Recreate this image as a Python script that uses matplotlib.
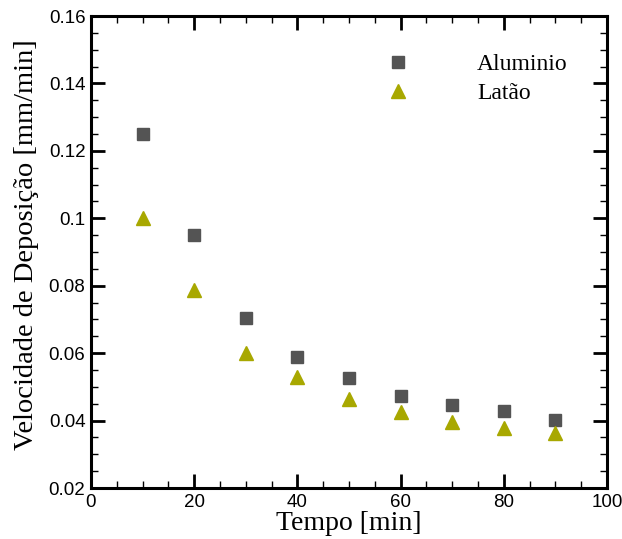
import matplotlib
import matplotlib.pyplot as plt
from matplotlib.ticker import MultipleLocator

matplotlib.use("Agg")

tempo = [10, 20, 30, 40, 50, 60, 70, 80, 90]
aluminio = [0.125, 0.095, 0.0705, 0.0588, 0.0525, 0.0473, 0.0445, 0.0428, 0.0402]
latao = [0.1002, 0.0787, 0.0600, 0.0530, 0.0465, 0.0426, 0.0397, 0.0379, 0.0364]

serif = ["Liberation Serif", "DejaVu Serif"]
sans = ["Liberation Sans", "DejaVu Sans"]

fig = plt.figure(figsize=(6.22, 5.39), dpi=100)
ax = fig.add_axes([0.1463, 0.0946, 0.8296, 0.8757])

ax.plot(tempo, aluminio, linestyle="none", marker="s", markersize=8.5,
        color="#545454", label="Aluminio")
ax.plot(tempo, latao, linestyle="none", marker="^", markersize=10,
        color="#a8a800", label="Latão")

ax.set_xlim(0, 100)
ax.set_ylim(0.02, 0.16)
ax.xaxis.set_major_locator(MultipleLocator(20))
ax.xaxis.set_minor_locator(MultipleLocator(5))
ax.yaxis.set_major_locator(MultipleLocator(0.02))
ax.yaxis.set_minor_locator(MultipleLocator(0.005))
ax.set_yticks([0.02, 0.04, 0.06, 0.08, 0.1, 0.12, 0.14, 0.16],
              ["0.02", "0.04", "0.06", "0.08", "0.1", "0.12", "0.14", "0.16"])

ax.tick_params(which="both", direction="in", top=True, right=True)
ax.tick_params(which="major", length=10, width=2, labelsize=13.5, pad=4)
ax.tick_params(which="minor", length=5, width=1)
for lab in ax.get_xticklabels() + ax.get_yticklabels():
    lab.set_family(sans)

for sp in ax.spines.values():
    sp.set_linewidth(2.2)

ax.set_xlabel("Tempo [min]", family=serif, fontsize=20, labelpad=0)
ax.set_ylabel("Velocidade de Deposição [mm/min]", family=serif, fontsize=20.5)
ax.yaxis.set_label_coords(-0.1, 0.515)

ax.legend(loc="upper right", bbox_to_anchor=(0.965, 0.965), frameon=False,
          prop={"family": serif, "size": 17}, handletextpad=2.6,
          labelspacing=0.3, handlelength=1.5)

fig.savefig("out.png", dpi=100)
